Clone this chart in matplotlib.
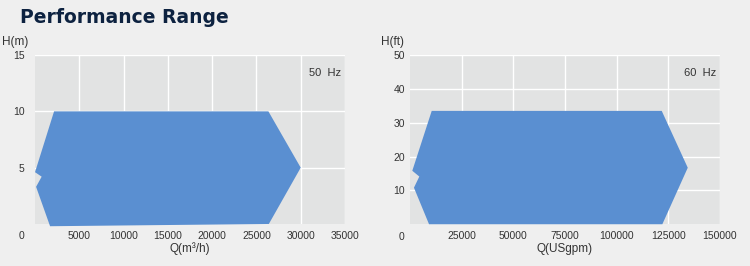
import matplotlib
matplotlib.use('Agg')
import matplotlib.pyplot as plt
from matplotlib.patches import Polygon

plt.rcParams['font.family'] = ['Liberation Sans', 'DejaVu Sans']

# 50 Hz envelope, Q in m3/h, H in m
q50 = [2150, 26350, 30000, 26400, 1700, 120, 750, 0]
h50 = [10, 10, 5, 0, -0.2, 3.3, 4.2, 4.6]
xt50 = [5000, 10000, 15000, 20000, 25000, 30000, 35000]
yt50 = [0, 5, 10, 15]

# 60 Hz envelope, Q in USgpm, H in ft
q60 = [10500, 121800, 134400, 122100, 9200, 1900, 4500, 1100]
h60 = [33.5, 33.5, 16.7, 0, 0, 10.8, 14.1, 15.8]
xt60 = [25000, 50000, 75000, 100000, 125000, 150000]
yt60 = [0, 10, 20, 30, 40, 50]

BG = '#efefef'
AXBG = '#e2e3e3'
BLUE = '#5a8fd1'
TXT = '#333333'

fig = plt.figure(figsize=(7.5, 2.66), dpi=100, facecolor=BG)
fig.text(0.027, 0.935, 'Performance Range', fontsize=13.5, fontweight='heavy',
         color='#0d2240', family='DejaVu Sans', va='center', ha='left')


def panel(rect, q, h, xt, yt, xmax, ylab, xlab, hz, ypad, ylab_x):
    ax = fig.add_axes(rect, facecolor=AXBG)
    ax.add_patch(Polygon(list(zip(q, h)), closed=True, facecolor=BLUE,
                         edgecolor='none', zorder=2, clip_on=False))
    ax.set_xlim(0, xmax)
    ax.set_ylim(0, yt[-1])
    ax.set_xticks(xt)
    ax.set_xticklabels([str(v) for v in xt])
    ax.set_yticks(yt[1:])
    ax.set_yticklabels([str(v) for v in yt[1:]])
    ax.grid(True, color='white', linewidth=1, zorder=1)
    ax.set_axisbelow(True)
    for s in ax.spines.values():
        s.set_visible(False)
    ax.tick_params(length=0, labelsize=7.5, colors=TXT)
    ax.tick_params(axis='x', pad=5)
    ax.tick_params(axis='y', pad=ypad)
    # the zero label sits low at the corner
    ax.annotate(str(yt[0]), xy=(0, 0), xycoords='axes fraction',
                xytext=(-ypad - 0.5, -9), textcoords='offset points',
                ha='right', va='center', fontsize=7.5, color=TXT)
    ax.text(ylab_x, 1.077, ylab, transform=ax.transAxes, ha='center',
            va='center', fontsize=8.5, color=TXT)
    ax.set_xlabel(xlab, fontsize=8.5, color=TXT, labelpad=1)
    ax.text(0.935, 0.893, hz, transform=ax.transAxes, ha='center',
            va='center', fontsize=8, color=TXT)
    return ax


panel([0.0467, 0.158, 0.4133, 0.635], q50, h50, xt50, yt50, 35000,
      'H(m)', 'Q(m³/h)', '50  Hz', 7.5, -0.065)
panel([0.5467, 0.157, 0.4133, 0.636], q60, h60, xt60, yt60, 150000,
      'H(ft)', 'Q(USgpm)', '60  Hz', 3.5, -0.055)

fig.savefig('out.png', dpi=100, facecolor=BG)
